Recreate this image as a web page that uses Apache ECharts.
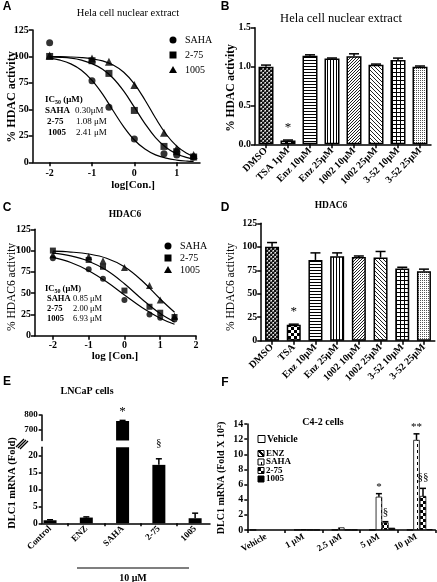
<!DOCTYPE html>
<html><head><meta charset="utf-8">
<script src="https://cdn.jsdelivr.net/npm/echarts@6/dist/echarts.min.js"></script>
<style>html,body{margin:0;padding:0;background:#fff}#c{width:437px;height:582px}</style>
</head><body><div id="c"></div>
<script>
// ===== DATA =====
// Panel A (Hela nuclear extract, dose response)
const logConc = [-2, -1, -0.6, 0, 0.7, 1, 1.4];
const aSAHA = [113, 77, 52, 22, 8, 7, 5];
const a275 = [100, 96, 84, 49, 15, 10, 5];
const a1005 = [101, 98, 95, 73, 28, 13, 7];
const aFitX = [-2, -1.75, -1.5, -1.25, -1, -0.75, -0.5, -0.25, 0, 0.25, 0.5, 0.75, 1, 1.25, 1.4];
const aFitSAHA = [98.5, 96.5, 93.0, 87.0, 77.5, 64.5, 48.7, 33.5, 21.1, 12.5, 7.0, 3.9, 2.1, 1.1, 0.8];
const aFit275 = [99.6, 99.2, 98.4, 96.6, 93.2, 87.9, 79.4, 67.2, 52.1, 36.6, 23.4, 14.0, 7.9, 4.4, 3.0];
const aFit1005 = [99.9, 99.8, 99.5, 98.9, 97.8, 95.8, 91.9, 85.1, 74.1, 58.9, 41.8, 26.5, 15.3, 8.3, 5.6];
const aTicks = [-2, -1, 0, 1];

// Panel B
const bCats = ['DMSO', 'TSA 1μM', 'Enz 10μM', 'Enz 25μM', '1002 10μM', '1002 25μM', '3-52 10μM', '3-52 25μM'];
const bVals = [1.00, 0.05, 1.14, 1.105, 1.135, 1.025, 1.085, 1.00];
const bErr = [0.02, 0.005, 0.012, 0.006, 0.03, 0.008, 0.025, 0.008];
const bStars = [[1, 0.22, '*']];

// Panel C (HDAC6)
const cSAHA = [91, 78, 67, 42, 25, 21, 19];
const c275 = [100, 89, 81, 53, 34, 27, 22];
const c1005 = [95, 93, 88, 80, 59, 42, 23];
const cFitX = [-2, -1.5, -1, -0.5, 0, 0.5, 1, 1.4];
const cFitSAHA = [92.0, 86.0, 76.4, 63.3, 47.8, 32.8, 20.5, 13.4];
const cFit275 = [96.9, 93.7, 87.5, 76.8, 61.0, 42.6, 26.0, 16.2];
const cFit1005 = [99.3, 98.3, 96.0, 91.0, 81.0, 64.3, 43.1, 27.5];
const cTicks = [-2, -1, 0, 1, 2];

// Panel D
const dCats = ['DMSO', 'TSA', 'Enz 10μM', 'Enz 25μM', '1002 10μM', '1002 25μM', '3-52 10μM', '3-52 25μM'];
const dVals = [100, 17, 86, 90, 89, 88.5, 77, 74];
const dErr = [4.5, 0.6, 7.5, 3.5, 1.2, 6.5, 1.2, 2.2];
const dStars = [[1, 31, '*']];

// Panel E (LNCaP)
const eCats = ['Control', 'ENZ', 'SAHA', '2-75', '1005'];
const eVals = [0.9, 1.7, 760, 17.3, 1.5];
const eErr = [0.15, 0.2, 4, 1.8, 1.5];
const eUpperTicks = [700, 800];
const eLowerTicks = [0, 5, 10, 15, 20];
const eStarsUpper = [[2, 822, '*']];
const eStarsLower = [[3, 23.6, '§']];

// Panel F (C4-2)
const fCats = ['Vehicle', '1 μM', '2.5 μM', '5 μM', '10 μM'];
const fNames = ['Vehicle', 'ENZ', 'SAHA', '2-75', '1005'];
const fVehicle = [0.02, null, null, null, null];
const fENZ = [null, 0.02, 0.02, 0.02, 0.02];
const fSAHA = [null, 0.05, 0.35, 4.4, 11.9];
const f275 = [null, 0.02, 0.03, 1.0, 4.5];
const f1005 = [null, 0.01, 0.02, 0.3, 0.1];
const fSAHAErr = [0, 0, 0, 0.4, 0.8];
const f275Err = [0, 0, 0, 0.1, 1.0];
const fStars = [[3, 2, 5.7, '*'], [4, 2, 13.6, '**'], [3, 3, 2.3, '§'], [4, 3, 7.0, '§§']];

// ===== STYLE HELPERS =====
const SERIF = '"Liberation Serif","Times New Roman",serif';
const SANS = '"Liberation Sans",Arial,sans-serif';
function mk(w, h, bg, draw) {
  const c = document.createElement('canvas'); c.width = w; c.height = h;
  const g = c.getContext('2d'); g.fillStyle = bg; g.fillRect(0, 0, w, h); g.fillStyle = '#000'; draw(g);
  return { image: c, repeat: 'repeat' };
}
const px = (g, pts, col) => { if (col) g.fillStyle = col; pts.forEach(p => g.fillRect(p[0], p[1], p[2] || 1, p[3] || 1)); };
const PAT = {
  dmso: mk(4, 4, '#888', g => { px(g, [[0,0,2,2],[2,2,2,2]], '#111'); px(g, [[3,0],[1,2]], '#eee'); }),
  tsa: mk(6, 6, '#fff', g => px(g, [[0,0,3,3],[3,3,3,3]])),
  hlines: mk(3, 3, '#fff', g => px(g, [[0,0,3,1]])),
  vlines: mk(3, 3, '#fff', g => px(g, [[0,0,1,3]])),
  diagA: mk(3, 3, '#fff', g => px(g, [[2,0],[1,1],[0,2]], '#222')),
  diagB: mk(4, 4, '#fff', g => px(g, [[0,0],[1,1],[2,2],[3,3]], '#222')),
  grid: mk(4, 4, '#fff', g => px(g, [[0,0,4,1],[0,0,1,4]])),
  dots: mk(2, 2, '#fff', g => px(g, [[0,0]], '#555')),
  white: '#fff',
  enz: mk(6, 6, '#fff', g => px(g, [[0,0,2,1],[0,1,3,1],[1,2,3,1],[2,3,3,1],[3,4,3,1],[4,5,2,1],[0,5,1,1]])),
  saha: mk(6, 6, '#fff', g => px(g, [[3,0,1,3]])),
  c275: mk(6, 6, '#fff', g => px(g, [[0,0,3,3],[3,3,3,3]])),
  black: '#000'
};
const bPats = [PAT.dmso, PAT.tsa, PAT.hlines, PAT.vlines, PAT.diagA, PAT.diagB, PAT.grid, PAT.dots];
const fPats = [PAT.white, PAT.enz, PAT.saha, PAT.c275, PAT.black];

const LINE = { color: '#000', width: 1.5 };
function valueAxis(gi, o) {
  return Object.assign({
    gridIndex: gi, type: 'value',
    axisLine: { show: true, onZero: false, lineStyle: LINE },
    axisTick: { show: true, length: 4, inside: false, lineStyle: LINE },
    axisLabel: { color: '#000', fontFamily: SERIF, fontWeight: 'bold', fontSize: 10, margin: 4 },
    splitLine: { show: false }
  }, o);
}
function catAxis(gi, data, o) {
  return Object.assign({
    gridIndex: gi, type: 'category', data,
    axisLine: { show: true, onZero: false, lineStyle: LINE },
    axisTick: { show: true, length: 4, alignWithLabel: true, lineStyle: LINE },
    axisLabel: { color: '#000', fontFamily: SERIF, fontWeight: 'bold', fontSize: 10, rotate: 45, interval: 0, margin: 5 },
    splitLine: { show: false }
  }, o);
}
function errSeries(xi, yi, data, cap) {
  return {
    type: 'custom', xAxisIndex: xi, yAxisIndex: yi, z: 5, silent: true, data,
    renderItem: (p, api) => {
      const x0 = api.value(0), v = api.value(1), e = api.value(2), off = api.value(3) || 0;
      if (!(e > 0) || isNaN(v)) return;
      const a = api.coord([x0, v]), b = api.coord([x0, v + e]);
      const x = a[0] + off;
      return { type: 'group', children: [
        { type: 'line', shape: { x1: x, y1: a[1], x2: x, y2: b[1] }, style: { stroke: '#000', lineWidth: 1.5 } },
        { type: 'line', shape: { x1: x - cap, y1: b[1], x2: x + cap, y2: b[1] }, style: { stroke: '#000', lineWidth: 1.5 } }
      ] };
    }
  };
}
function noteSeries(xi, yi, notes, size, family, offFn) {
  return {
    type: 'custom', xAxisIndex: xi, yAxisIndex: yi, z: 6, silent: true,
    data: notes.map(n => [n[0], n[n.length - 2]]),
    renderItem: (p, api) => {
      const n = notes[p.dataIndex];
      const pt = api.coord([api.value(0), api.value(1)]);
      return { type: 'text', x: pt[0] + (offFn ? offFn(n) : 0), y: pt[1],
        style: { text: n[n.length - 1], fill: '#000', font: `normal ${size}px ${family}`, align: 'center', verticalAlign: 'middle', textAlign: 'center', textVerticalAlign: 'middle' } };
    }
  };
}
const zip = (xs, ys) => xs.map((x, i) => [x, ys[i]]);
function scat(xi, yi, name, data, sym, size) {
  return { type: 'scatter', name, xAxisIndex: xi, yAxisIndex: yi, data, symbol: sym, symbolSize: size, itemStyle: { color: '#000' }, z: 4 };
}
function fit(xi, yi, data) {
  return { type: 'line', xAxisIndex: xi, yAxisIndex: yi, data, smooth: 0.4, showSymbol: false, symbol: 'none', lineStyle: { color: '#000', width: 1.2 }, z: 3 };
}
function T(x, y, text, o = {}) {
  return { type: 'text', x, y, rotation: o.rot || 0, z: 10,
    style: { text, fill: '#000', font: `${o.w || 'normal'} ${o.s || 10}px ${o.f || SERIF}`, align: o.a || 'center', verticalAlign: 'middle', rich: o.rich } };
}
const mkRich = fs => ({
  b: { fontFamily: SERIF, fontWeight: 'bold', fontSize: fs },
  n: { fontFamily: SERIF, fontWeight: 'normal', fontSize: fs },
  s: { fontFamily: SERIF, fontWeight: 'bold', fontSize: 6, padding: [5, 0, 0, 0] }
});
const RA = mkRich(9), RC = mkRich(8.5);
function legendRow(x, y, sym, label, size) {
  const g = [];
  if (sym === 'circle') g.push({ type: 'circle', shape: { cx: x, cy: y, r: 3.5 }, style: { fill: '#000' } });
  if (sym === 'rect') g.push({ type: 'rect', shape: { x: x - 3.5, y: y - 3.5, width: 7, height: 7 }, style: { fill: '#000' } });
  if (sym === 'triangle') g.push({ type: 'polygon', shape: { points: [[x, y - 4], [x + 4, y + 3], [x - 4, y + 3]] }, style: { fill: '#000' } });
  g.push(T(x + 12, y, label, { a: 'left', s: size || 10 }));
  return g;
}
function fLegend(x, y, pat, label, sz, fs) {
  return [
    { type: 'rect', shape: { x, y: y - sz / 2, width: sz, height: sz }, style: { fill: pat, stroke: '#000', lineWidth: 1 } },
    T(x + sz + 2, y, label, { a: 'left', w: 'bold', s: fs })
  ];
}

// ===== OPTION =====
const G = (left, top, width, height) => ({ left, top, width, height, containLabel: false, outerBoundsMode: 'none' });
const option = {
  animation: false,
  backgroundColor: '#fff',
  grid: [
    G(32.7, 30, 167.3, 132.3),   // A
    G(255, 27.8, 176, 116.5),    // B
    G(35, 229.3, 161, 106.4),    // C
    G(261.2, 223.3, 173.6, 117.4), // D
    G(41.7, 415, 168.3, 25.5),   // E upper
    G(41.7, 447.3, 168.3, 76),   // E lower
    G(247.3, 424, 188, 106)      // F
  ],
  xAxis: [
    valueAxis(0, { min: -2.4, max: 1.55, axisTick: { show: true, length: 4, lineStyle: LINE, customValues: aTicks }, axisLabel: { color: '#000', fontFamily: SERIF, fontWeight: 'bold', fontSize: 10, margin: 6, customValues: aTicks } }),
    catAxis(1, bCats),
    valueAxis(2, { min: -2.5, max: 2, axisTick: { show: true, length: 4, lineStyle: LINE, customValues: cTicks }, axisLabel: { color: '#000', fontFamily: SERIF, fontWeight: 'bold', fontSize: 10, margin: 5, customValues: cTicks } }),
    catAxis(3, dCats),
    valueAxis(4, { min: -0.23, max: 4.41, show: false }),
    valueAxis(5, { min: -0.23, max: 4.41,
      axisTick: { show: true, length: 3, lineStyle: LINE, customValues: [0.5, 1.5, 2.5, 3.5] },
      axisLabel: { color: '#000', fontFamily: SERIF, fontWeight: 'bold', fontSize: 9, rotate: 45, margin: 4, customValues: [0, 1, 2, 3, 4], formatter: v => eCats[Math.round(v)] } }),
    catAxis(6, fCats, { axisTick: { show: true, length: 3, alignWithLabel: false, lineStyle: LINE },
      axisLabel: { color: '#000', fontFamily: SERIF, fontWeight: 'bold', fontSize: 9, rotate: 30, interval: 0, margin: 6 } })
  ],
  yAxis: [
    valueAxis(0, { min: 0, max: 125, interval: 25 }),
    valueAxis(1, { min: 0, max: 1.5, interval: 0.5, axisLabel: { color: '#000', fontFamily: SERIF, fontWeight: 'bold', fontSize: 10, margin: 4, formatter: v => v.toFixed(1) } }),
    valueAxis(2, { min: 0, max: 125, interval: 25 }),
    valueAxis(3, { min: 0, max: 125, interval: 25 }),
    valueAxis(4, { min: 630, max: 800, axisTick: { show: true, length: 3, lineStyle: LINE, customValues: eUpperTicks }, axisLabel: { color: '#000', fontFamily: SERIF, fontWeight: 'bold', fontSize: 9, margin: 4, customValues: eUpperTicks } }),
    valueAxis(5, { min: 0, max: 22.5, axisTick: { show: true, length: 3, lineStyle: LINE, customValues: eLowerTicks }, axisLabel: { color: '#000', fontFamily: SERIF, fontWeight: 'bold', fontSize: 9.5, margin: 4, customValues: eLowerTicks } }),
    valueAxis(6, { min: 0, max: 14, interval: 2, axisTick: { show: true, length: 3, lineStyle: LINE }, axisLabel: { color: '#000', fontFamily: SERIF, fontWeight: 'bold', fontSize: 10, margin: 4 } })
  ],
  series: [
    // A
    fit(0, 0, zip(aFitX, aFitSAHA)), fit(0, 0, zip(aFitX, aFit275)), fit(0, 0, zip(aFitX, aFit1005)),
    scat(0, 0, 'SAHA', zip(logConc, aSAHA), 'circle', 7),
    scat(0, 0, '2-75', zip(logConc, a275), 'rect', 7),
    scat(0, 0, '1005', zip(logConc, a1005), 'triangle', 8),
    // B
    { type: 'bar', xAxisIndex: 1, yAxisIndex: 1, barWidth: 15,
      data: bVals.map((v, i) => ({ value: v, itemStyle: { color: bPats[i], borderColor: '#000', borderWidth: 1.5 } })) },
    errSeries(1, 1, bVals.map((v, i) => [i, v, bErr[i], 0]), 5),
    noteSeries(1, 1, bStars, 13, SERIF),
    // C
    fit(2, 2, zip(cFitX, cFitSAHA)), fit(2, 2, zip(cFitX, cFit275)), fit(2, 2, zip(cFitX, cFit1005)),
    scat(2, 2, 'SAHA', zip(logConc, cSAHA), 'circle', 6),
    scat(2, 2, '2-75', zip(logConc, c275), 'rect', 6),
    scat(2, 2, '1005', zip(logConc, c1005), 'triangle', 7),
    // D
    { type: 'bar', xAxisIndex: 3, yAxisIndex: 3, barWidth: 14,
      data: dVals.map((v, i) => ({ value: v, itemStyle: { color: bPats[i], borderColor: '#000', borderWidth: 1.5 } })) },
    errSeries(3, 3, dVals.map((v, i) => [i, v, dErr[i], 0]), 5),
    noteSeries(3, 3, dStars, 13, SERIF),
    // E
    { type: 'bar', xAxisIndex: 4, yAxisIndex: 4, barWidth: 13, clip: true,
      data: eVals.map((v, i) => [i, v >= 630 ? v : null]), itemStyle: { color: '#000' } },
    { type: 'bar', xAxisIndex: 5, yAxisIndex: 5, barWidth: 13, clip: true,
      data: eVals.map((v, i) => [i, v]), itemStyle: { color: '#000' } },
    errSeries(4, 4, eVals.map((v, i) => [i, v >= 630 ? v : NaN, eErr[i], 0]), 3),
    errSeries(5, 5, eVals.map((v, i) => [i, v < 630 ? v : NaN, eErr[i], 0]), 3),
    noteSeries(4, 4, eStarsUpper, 13, SERIF),
    noteSeries(5, 5, eStarsLower, 11, SERIF),
    // F
    ...[fVehicle, fENZ, fSAHA, f275, f1005].map((arr, k) => ({
      type: 'bar', name: fNames[k], xAxisIndex: 6, yAxisIndex: 6, barWidth: 6.5, barGap: '0%',
      data: arr, itemStyle: { color: fPats[k], borderColor: '#000', borderWidth: 0.8 }
    })),
    errSeries(6, 6, fSAHA.map((v, i) => [i, v == null ? NaN : v, fSAHAErr[i], 0]), 3),
    errSeries(6, 6, f275.map((v, i) => [i, v == null ? NaN : v, f275Err[i], 6.5]), 3),
    noteSeries(6, 6, fStars, 11, SERIF, n => (n[1] - 2) * 6.5)
  ],
  graphic: { elements: [
    // panel letters
    T(7, 7, 'A', { w: 'bold', s: 12, f: SANS }), T(225, 7, 'B', { w: 'bold', s: 12, f: SANS }),
    T(7, 208, 'C', { w: 'bold', s: 12, f: SANS }), T(225, 208, 'D', { w: 'bold', s: 12, f: SANS }),
    T(7, 382, 'E', { w: 'bold', s: 12, f: SANS }), T(225, 383, 'F', { w: 'bold', s: 12, f: SANS }),
    // titles
    T(128, 13, 'Hela cell nuclear extract', { s: 10.5 }),
    T(341, 19, 'Hela cell nuclear extract', { s: 12.5 }),
    T(125, 215, 'HDAC6', { w: 'bold', s: 9.5 }),
    T(331, 206, 'HDAC6', { w: 'bold', s: 9.5 }),
    T(87, 391, 'LNCaP cells', { w: 'bold', s: 10 }),
    T(323, 422, 'C4-2 cells', { w: 'bold', s: 10 }),
    // axis names
    T(12, 97, '% HDAC activity', { w: 'bold', s: 12, rot: Math.PI / 2 }),
    T(133, 185, 'log[Con.]', { w: 'bold', s: 11 }),
    T(231, 88, '% HDAC activity', { w: 'bold', s: 11.5, rot: Math.PI / 2 }),
    T(12, 287, '% HDAC6 activity', { s: 11.5, rot: Math.PI / 2 }),
    T(115, 356, 'log [Con.]', { w: 'bold', s: 11 }),
    T(231, 287, '% HDAC6 activity', { s: 11.5, rot: Math.PI / 2 }),
    T(12, 483, 'DLC1 mRNA (Fold)', { w: 'bold', s: 10.5, rot: Math.PI / 2 }),
    T(221, 478, 'DLC1 mRNA (Fold X 10²)', { w: 'bold', s: 10, rot: Math.PI / 2 }),
    // legends A, C
    ...legendRow(173, 40, 'circle', 'SAHA'), ...legendRow(173, 55, 'rect', '2-75'), ...legendRow(173, 70, 'triangle', '1005'),
    ...legendRow(168, 246, 'circle', 'SAHA'), ...legendRow(168, 258, 'rect', '2-75'), ...legendRow(168, 270, 'triangle', '1005'),
    // IC50 boxes
    T(45, 100, '{b|IC}{s|50}{b| (μM)}', { a: 'left', rich: RA }),
    T(45, 111, '{b|SAHA}', { a: 'left', rich: RA }), T(75, 111, '{n|0.30μM}', { a: 'left', rich: RA }),
    T(47, 122, '{b|2-75}', { a: 'left', rich: RA }), T(76, 122, '{n|1.08 μM}', { a: 'left', rich: RA }),
    T(48, 133, '{b|1005}', { a: 'left', rich: RA }), T(76, 133, '{n|2.41 μM}', { a: 'left', rich: RA }),
    T(45, 289, '{b|IC}{s|50}{b| (μM)}', { a: 'left', rich: RC }),
    T(47, 298.5, '{b|SAHA}', { a: 'left', rich: RC }), T(73, 298.5, '{n|0.85 μM}', { a: 'left', rich: RC }),
    T(47, 308.5, '{b|2-75}', { a: 'left', rich: RC }), T(73, 308.5, '{n|2.00 μM}', { a: 'left', rich: RC }),
    T(47, 318.5, '{b|1005}', { a: 'left', rich: RC }), T(73, 318.5, '{n|6.93 μM}', { a: 'left', rich: RC }),
    // E broken-axis marks and bracket
    { type: 'line', shape: { x1: 16, y1: 447, x2: 24, y2: 439 }, style: { stroke: '#000', lineWidth: 1.2 } },
    { type: 'line', shape: { x1: 18, y1: 448, x2: 26, y2: 440 }, style: { stroke: '#000', lineWidth: 1.2 } },
    { type: 'line', shape: { x1: 20, y1: 449, x2: 28, y2: 441 }, style: { stroke: '#000', lineWidth: 1.2 } },
    { type: 'line', shape: { x1: 77, y1: 568, x2: 189, y2: 568 }, style: { stroke: '#000', lineWidth: 1.2 } },
    T(133, 578, '10 μM', { w: 'bold', s: 10 }),
    // F legend
    ...fLegend(258, 439, fPats[0], 'Vehicle', 7, 10),
    ...fLegend(258, 453.5, fPats[1], 'ENZ', 6, 9),
    ...fLegend(258, 462, fPats[2], 'SAHA', 6, 9),
    ...fLegend(258, 470.5, fPats[3], '2-75', 6, 9),
    ...fLegend(258, 479, fPats[4], '1005', 6, 9)
  ] }
};
const chart = echarts.init(document.getElementById('c'), null, { renderer: 'canvas', width: 437, height: 582 });
chart.setOption(option);
</script>
</body></html>
